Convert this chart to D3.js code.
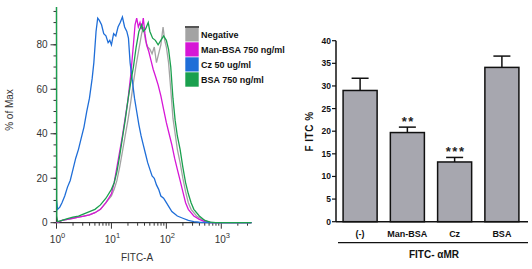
<!DOCTYPE html>
<html lang="en">
  <head>
    <meta charset="UTF-8" />
    <title>FITC histogram and bar chart</title>
    <script src="https://cdnjs.cloudflare.com/ajax/libs/d3/7.8.5/d3.min.js"></script>
    <style>
      body { margin: 0; background: #fff; }
      svg { display: block; font-family: "Liberation Sans", Arial, sans-serif; }
    </style>
  </head>
  <body>
    <div id="chart"></div>
    <script>
    // ---- histogram data: [log10(FITC-A), % of Max] ----
    var negative = [[0,0],[0.05,0.5],[0.1,1],[0.2,1.5],[0.3,2],[0.4,2.5],[0.5,3],[0.6,3.5],[0.7,4.5],[0.8,6],[0.9,9],[1.0,12],[1.05,15],[1.1,19],[1.15,25],[1.2,32],[1.25,39],[1.3,46],[1.35,54],[1.4,63],[1.45,71],[1.5,78],[1.55,85],[1.58,88],[1.62,82],[1.66,79],[1.7,78],[1.74,76],[1.78,79],[1.82,72],[1.86,76],[1.9,80],[1.94,88],[1.97,82],[2.0,79],[2.04,72],[2.08,60],[2.12,47],[2.16,40],[2.2,33],[2.25,27],[2.3,20],[2.35,14],[2.4,9],[2.45,6],[2.55,3],[2.65,1.5],[2.75,0.5],[2.85,0],[3.55,0]];
    var manBsa = [[0,0],[0.05,0.5],[0.1,1],[0.2,1.5],[0.3,2],[0.4,2.5],[0.5,3],[0.6,3.5],[0.7,4.5],[0.8,6],[0.9,9],[0.95,11],[1.0,13],[1.05,18],[1.1,25],[1.15,32],[1.2,39],[1.25,47],[1.3,55],[1.35,66],[1.4,80],[1.43,89],[1.46,92],[1.49,88],[1.52,90],[1.55,87],[1.58,92],[1.61,85],[1.64,80],[1.68,77],[1.72,73],[1.76,69],[1.8,66],[1.85,62],[1.9,57],[1.95,51],[2.0,45],[2.05,40],[2.1,35],[2.15,29],[2.2,24],[2.25,19],[2.3,14],[2.35,9],[2.4,6],[2.5,3],[2.6,1.5],[2.7,0.5],[2.8,0],[3.55,0]];
    var cz = [[0,10],[0.02,6],[0.06,7],[0.1,9],[0.15,12],[0.2,16],[0.25,19],[0.3,24],[0.35,29],[0.4,33],[0.45,38],[0.5,43],[0.55,50],[0.6,56],[0.65,65],[0.68,72],[0.72,86],[0.75,92],[0.78,91],[0.82,89],[0.86,85],[0.9,84],[0.94,81],[0.97,82],[1.0,80],[1.04,85],[1.08,84],[1.12,88],[1.16,90],[1.2,92.5],[1.24,88],[1.28,86],[1.31,83],[1.34,72],[1.38,64],[1.42,56],[1.46,50],[1.5,44],[1.54,39],[1.58,35],[1.62,31],[1.66,27],[1.7,24],[1.74,21],[1.78,20],[1.82,17],[1.86,15],[1.9,12],[1.95,11],[2.0,9],[2.05,7],[2.1,5],[2.15,4],[2.2,3],[2.3,2],[2.4,1],[2.5,0.5],[2.6,0.2],[2.8,0],[3.55,0]];
    var bsa = [[0,97],[0.005,3],[0.02,0.5],[0.1,1],[0.2,1.8],[0.3,2.5],[0.4,3],[0.5,4],[0.6,5],[0.7,6],[0.8,8],[0.9,11],[1.0,15],[1.05,18],[1.1,23],[1.15,30],[1.2,38],[1.25,46],[1.3,55],[1.35,63],[1.4,70],[1.45,79],[1.5,86],[1.55,89],[1.58,86],[1.62,87],[1.67,90],[1.7,86],[1.75,83],[1.8,82],[1.85,80],[1.9,82],[1.95,84],[2.0,82],[2.04,78],[2.08,70],[2.12,56],[2.16,46],[2.2,39],[2.25,33],[2.3,25],[2.35,18],[2.4,13],[2.45,9],[2.5,6],[2.6,3],[2.7,1],[2.8,0.3],[2.9,0],[3.55,0]];

    var legendNames = ["Negative", "Man-BSA 750 ng/ml", "Cz 50 ug/ml", "BSA 750 ng/ml"];
    var legendColors = ["#a3a3a3", "#d616d6", "#1f6ed8", "#1aa04e"];
    var histYTicks = [0, 20, 40, 60, 80];
    var histXTicks = [1, 10, 100, 1000];

    // ---- bar chart data ----
    var groups = ["(-)", "Man-BSA", "Cz", "BSA"];
    var fitcMean = [29, 19.7, 13.2, 34.1];
    var fitcErr = [2.7, 1.2, 1.0, 2.5];
    var stars = ["", "**", "***", ""];
    var barYTicks = [0, 5, 10, 15, 20, 25, 30, 35, 40];

    var svg = d3.select("#chart").append("svg")
      .attr("width", 532)
      .attr("height", 269);

    // ================= left: histogram =================
    var hx = d3.scaleLog().domain([1, Math.pow(10, 3.55)]).range([56.5, 251.5]);
    var hy = d3.scaleLinear().domain([0, 97]).range([222.7, 7]);

    var left = svg.append("g");

    // y axis
    var yAx = left.append("g").attr("transform", "translate(56.5,0)");
    yAx.append("line").attr("y1", hy(97)).attr("y2", hy(0)).attr("stroke", "#333").attr("stroke-width", 1.2);
    yAx.selectAll(".minor").data(d3.range(0, 96, 5)).enter().append("line")
      .attr("x1", -3).attr("x2", 0)
      .attr("y1", function(d) { return hy(d); }).attr("y2", function(d) { return hy(d); })
      .attr("stroke", "#333");
    yAx.selectAll(".major").data(histYTicks).enter().append("line")
      .attr("x1", -6).attr("x2", 0)
      .attr("y1", function(d) { return hy(d); }).attr("y2", function(d) { return hy(d); })
      .attr("stroke", "#333");
    yAx.selectAll("text").data(histYTicks).enter().append("text")
      .attr("x", -9).attr("y", function(d) { return hy(d) + 3.5; })
      .attr("text-anchor", "end").attr("font-size", 10).attr("fill", "#333")
      .text(function(d) { return d; });

    // x axis
    var xAx = left.append("g").attr("transform", "translate(0,222.7)");
    xAx.append("line").attr("x1", hx(1)).attr("x2", hx(Math.pow(10, 3.55))).attr("stroke", "#333").attr("stroke-width", 1.2);
    var minorX = [];
    histXTicks.forEach(function(t) {
      for (var k = 2; k <= 9; k++) { if (t * k < Math.pow(10, 3.55)) minorX.push(t * k); }
    });
    xAx.selectAll(".minor").data(minorX).enter().append("line")
      .attr("x1", function(d) { return hx(d); }).attr("x2", function(d) { return hx(d); })
      .attr("y1", 0).attr("y2", 3).attr("stroke", "#333");
    xAx.selectAll(".major").data(histXTicks).enter().append("line")
      .attr("x1", function(d) { return hx(d); }).attr("x2", function(d) { return hx(d); })
      .attr("y1", 0).attr("y2", 6).attr("stroke", "#333");
    var xl = xAx.selectAll("text").data(histXTicks).enter().append("text")
      .attr("x", function(d) { return hx(d) + 1; }).attr("y", 20)
      .attr("text-anchor", "middle").attr("font-size", 10).attr("fill", "#333");
    xl.append("tspan").text("10");
    xl.append("tspan").attr("dy", -5).attr("font-size", 7.5)
      .text(function(d) { return Math.round(Math.log10(d)); });

    left.append("text").attr("x", 137).attr("y", 261).attr("text-anchor", "middle")
      .attr("font-size", 10).attr("fill", "#333").text("FITC-A");
    left.append("text").attr("transform", "translate(13,110) rotate(-90)")
      .attr("text-anchor", "middle").attr("font-size", 10).attr("fill", "#333").text("% of Max");

    // curves
    var line = d3.line()
      .x(function(d) { return hx(Math.pow(10, d[0])); })
      .y(function(d) { return hy(d[1]); });
    var curves = [negative, manBsa, cz, bsa];
    var order = [0, 1, 2, 3];
    left.selectAll(".curve").data(order).enter().append("path")
      .attr("d", function(i) { return line(curves[i]); })
      .attr("fill", "none")
      .attr("stroke", function(i) { return legendColors[i]; })
      .attr("stroke-width", 1.3);

    // legend
    var leg = left.append("g").attr("transform", "translate(185,27)");
    leg.selectAll("rect").data(legendNames).enter().append("rect")
      .attr("x", 0).attr("y", function(d, i) { return i * 15; })
      .attr("width", 14).attr("height", 15)
      .attr("fill", function(d, i) { return legendColors[i]; })
      .attr("stroke", "#fff").attr("stroke-width", 0.6);
    leg.append("rect").attr("x", 0).attr("y", -1).attr("width", 14).attr("height", 2).attr("fill", "#555");
    leg.selectAll("text").data(legendNames).enter().append("text")
      .attr("x", 16).attr("y", function(d, i) { return i * 15 + 10.5; })
      .attr("font-size", 9).attr("font-weight", "bold").attr("fill", "#111")
      .text(function(d) { return d; });

    // ================= right: bar chart =================
    var bx = d3.scaleBand().domain(groups).range([336, 526]).paddingInner(0.28).paddingOuter(0.15);
    var by = d3.scaleLinear().domain([0, 40]).range([221.7, 40.7]);

    var right = svg.append("g");

    right.selectAll(".bar").data(groups).enter().append("rect")
      .attr("x", function(d) { return bx(d); })
      .attr("y", function(d, i) { return by(fitcMean[i]); })
      .attr("width", bx.bandwidth())
      .attr("height", function(d, i) { return by(0) - by(fitcMean[i]); })
      .attr("fill", "#a7a7af").attr("stroke", "#111").attr("stroke-width", 1.5);

    var eb = right.selectAll(".err").data(groups).enter().append("g");
    eb.append("line")
      .attr("x1", function(d) { return bx(d) + bx.bandwidth() / 2; })
      .attr("x2", function(d) { return bx(d) + bx.bandwidth() / 2; })
      .attr("y1", function(d, i) { return by(fitcMean[i]); })
      .attr("y2", function(d, i) { return by(fitcMean[i] + fitcErr[i]); })
      .attr("stroke", "#111").attr("stroke-width", 1.5);
    eb.append("line")
      .attr("x1", function(d) { return bx(d) + bx.bandwidth() / 2 - 8.5; })
      .attr("x2", function(d) { return bx(d) + bx.bandwidth() / 2 + 8.5; })
      .attr("y1", function(d, i) { return by(fitcMean[i] + fitcErr[i]); })
      .attr("y2", function(d, i) { return by(fitcMean[i] + fitcErr[i]); })
      .attr("stroke", "#111").attr("stroke-width", 1.5);
    eb.append("text")
      .attr("x", function(d) { return bx(d) + bx.bandwidth() / 2 + 1; })
      .attr("y", function(d, i) { return by(fitcMean[i] + fitcErr[i]) - 1; })
      .attr("text-anchor", "middle").attr("font-size", 13).attr("font-weight", "bold")
      .attr("letter-spacing", 1.5).attr("fill", "#222")
      .text(function(d, i) { return stars[i]; });

    // axes
    right.append("line").attr("x1", 336).attr("x2", 336).attr("y1", by(40)).attr("y2", by(0))
      .attr("stroke", "#111").attr("stroke-width", 1.5);
    right.append("line").attr("x1", 336).attr("x2", 528).attr("y1", by(0)).attr("y2", by(0))
      .attr("stroke", "#111").attr("stroke-width", 1.5);
    right.selectAll(".ytk").data(barYTicks).enter().append("line")
      .attr("x1", 332).attr("x2", 336)
      .attr("y1", function(d) { return by(d); }).attr("y2", function(d) { return by(d); })
      .attr("stroke", "#111").attr("stroke-width", 1.2);
    right.selectAll(".ylab").data(barYTicks).enter().append("text")
      .attr("x", 331).attr("y", function(d) { return by(d) + 3; })
      .attr("text-anchor", "end").attr("font-size", 8.5).attr("font-weight", "bold").attr("fill", "#111")
      .text(function(d) { return d; });
    right.selectAll(".xlab").data(groups).enter().append("text")
      .attr("x", function(d) { return bx(d) + bx.bandwidth() / 2; })
      .attr("y", 236.5)
      .attr("text-anchor", "middle").attr("font-size", 9).attr("font-weight", "bold").attr("fill", "#111")
      .text(function(d) { return d; });

    right.append("line").attr("x1", 338).attr("x2", 528).attr("y1", 242.7).attr("y2", 242.7)
      .attr("stroke", "#111").attr("stroke-width", 1.2);
    right.append("text").attr("x", 434).attr("y", 258).attr("text-anchor", "middle")
      .attr("font-size", 10).attr("font-weight", "bold").attr("fill", "#111").text("FITC- \u03b1MR");
    right.append("text").attr("transform", "translate(313,131.5) rotate(-90)")
      .attr("text-anchor", "middle").attr("font-size", 10).attr("font-weight", "bold").attr("fill", "#111")
      .attr("letter-spacing", 0.5).text("F ITC %");
    </script>
  </body>
</html>
